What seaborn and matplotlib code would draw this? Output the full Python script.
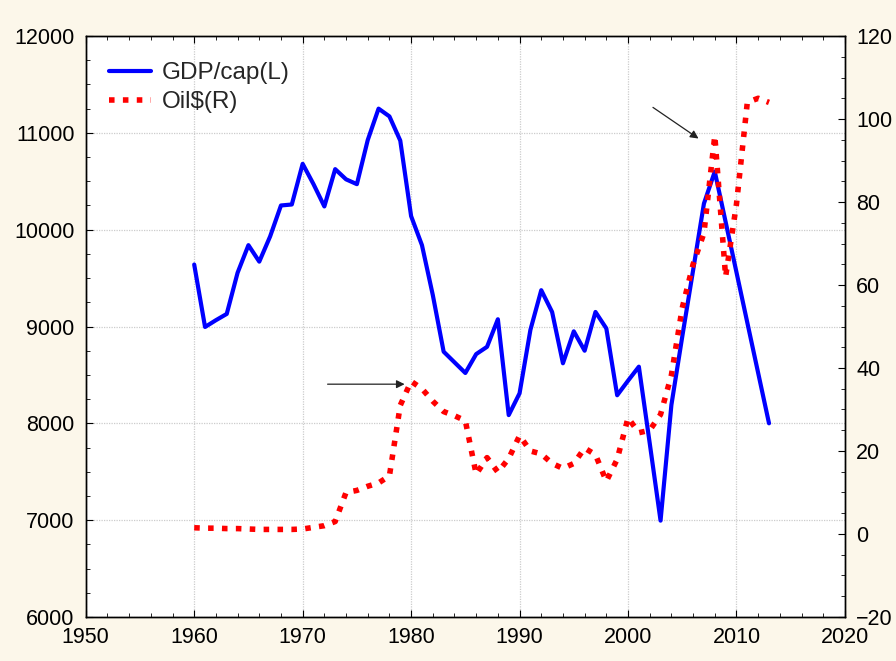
import matplotlib
matplotlib.use("Agg")
import matplotlib.pyplot as plt
import seaborn as sns
import pandas as pd
from matplotlib.ticker import MultipleLocator
from matplotlib.lines import Line2D

years = list(range(1960, 2014))
gdp_per_cap = [9640, 8995, 9065, 9130, 9555, 9840, 9670, 9930, 10250, 10260,
               10680, 10470, 10240, 10625, 10520, 10470, 10925, 11250, 11170, 10920,
               10140, 9840, 9325, 8740, 8630, 8520, 8715, 8790, 9075, 8085,
               8310, 8965, 9375, 9150, 8620, 8950, 8750, 9150, 8980, 8290,
               8440, 8585, 7795, 6995, 8190, 8895, 9580, 10270, 10600, 10080,
               9560, 9040, 8520, 8000]
oil_price = [1.5, 1.4, 1.4, 1.3, 1.3, 1.2, 1.1, 1.1, 1.1, 1.1,
             1.2, 1.6, 2.0, 3.0, 10.0, 10.5, 11.5, 12.3, 14.0, 31.0,
             36.8, 35.0, 32.0, 29.5, 28.5, 27.3, 14.4, 18.4, 14.9, 18.2,
             23.7, 20.0, 19.3, 17.0, 15.8, 17.0, 20.7, 19.1, 12.7, 18.0,
             28.0, 24.4, 25.0, 28.8, 38.3, 54.5, 65.0, 72.5, 96.0, 62.0,
             79.5, 104.0, 105.0, 104.0]
series_labels = ["GDP/cap(L)", "Oil$(R)"]

df = pd.DataFrame({"year": years, "gdp": gdp_per_cap, "oil": oil_price})

sns.set_style("white")
plt.rcParams["font.family"] = ["Liberation Sans", "DejaVu Sans"]

RED_DASH = (0, (1.0, 1.5))

fig = plt.figure(figsize=(8.96, 6.61), dpi=100, facecolor="#fcf7ea")
ax = fig.add_axes([0.0957, 0.0666, 0.8473, 0.8789])
ax.set_facecolor("white")
ax2 = ax.twinx()

sns.lineplot(data=df, x="year", y="gdp", ax=ax, color="#0000ff", lw=3.0, legend=False)
sns.lineplot(data=df, x="year", y="oil", ax=ax2, color="#ff0000", lw=4.0,
             linestyle=RED_DASH, legend=False)

ax.set_xlim(1950, 2020)
ax.set_ylim(6000, 12000)
ax2.set_ylim(-20, 120)
ax.xaxis.set_major_locator(MultipleLocator(10))
ax.xaxis.set_minor_locator(MultipleLocator(2))
ax.yaxis.set_major_locator(MultipleLocator(1000))
ax.yaxis.set_minor_locator(MultipleLocator(250))
ax2.yaxis.set_major_locator(MultipleLocator(20))
ax2.yaxis.set_minor_locator(MultipleLocator(5))

ax.set_xlabel("")
ax.set_ylabel("")
ax2.set_ylabel("")

ax.grid(True, which="major", color="#cccccc", linestyle=(0, (1, 1)), lw=0.9)
ax.set_axisbelow(True)

ax.tick_params(axis="x", which="both", direction="in", top=True, bottom=True,
               labelsize=15.5, colors="black", pad=7)
ax.tick_params(axis="x", which="major", length=5, width=0.8)
ax.tick_params(axis="x", which="minor", length=3, width=0.6)
ax.tick_params(axis="y", which="both", direction="in", left=True, right=False,
               labelsize=15.5, colors="black", pad=8)
ax.tick_params(axis="y", which="major", length=5, width=0.8)
ax.tick_params(axis="y", which="minor", length=3, width=0.6)
ax2.tick_params(axis="y", which="both", direction="in", right=True,
                labelsize=15.5, colors="black", pad=8)
ax2.tick_params(axis="y", which="major", length=5, width=0.8)
ax2.tick_params(axis="y", which="minor", length=3, width=0.6)

for a in (ax, ax2):
    for s in a.spines.values():
        s.set_color("black")
        s.set_linewidth(1.0)

ax2.annotate("", xy=(1979.4, 36.1), xytext=(1972.3, 36.1),
             arrowprops=dict(arrowstyle="-|>", color="#222222", lw=0.9,
                             mutation_scale=12, shrinkA=0, shrinkB=0))
ax2.annotate("", xy=(2006.5, 95.3), xytext=(2002.3, 102.8),
             arrowprops=dict(arrowstyle="-|>", color="#222222", lw=0.9,
                             mutation_scale=12, shrinkA=0, shrinkB=0))

handles = [Line2D([], [], color="#0000ff", lw=3.0),
           Line2D([], [], color="#ff0000", lw=4.0, linestyle=RED_DASH)]
ax.legend(handles, series_labels, loc="upper left", frameon=False,
          fontsize=17.5, handlelength=1.75, handletextpad=0.45,
          borderaxespad=0.0, borderpad=0.0, labelspacing=0.3,
          bbox_to_anchor=(0.03, 0.955))

fig.savefig("out.png", dpi=100, facecolor=fig.get_facecolor())
